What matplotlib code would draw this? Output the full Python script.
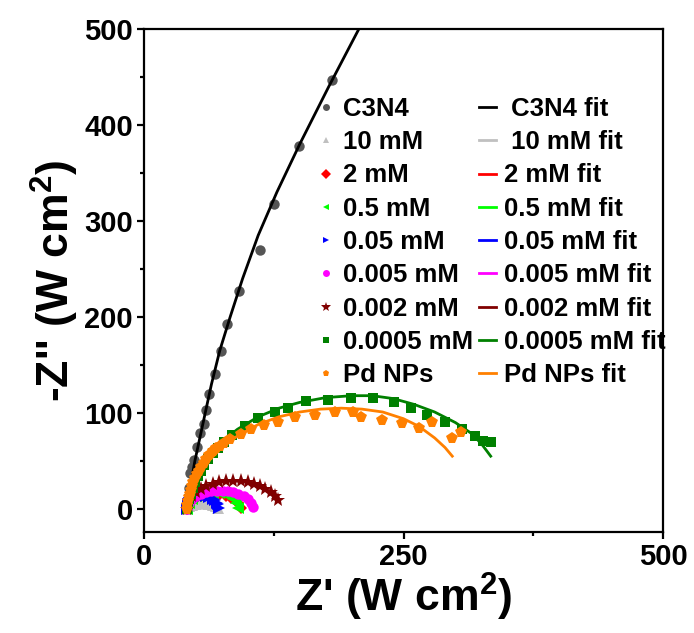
import numpy as np
import matplotlib
matplotlib.use('Agg')
import matplotlib.pyplot as plt
from matplotlib.ticker import MultipleLocator
from matplotlib.lines import Line2D

plt.rcParams['font.family'] = ['Liberation Sans', 'DejaVu Sans']
plt.rcParams['font.weight'] = 'bold'
plt.rcParams['mathtext.fontset'] = 'custom'
plt.rcParams['mathtext.rm'] = 'Liberation Sans:bold'
plt.rcParams['mathtext.bf'] = 'Liberation Sans:bold'

# measured points (Z', -Z'')
c3n4_x = [41, 42, 43, 44.7, 46.5, 48, 51, 54, 57.6, 60, 62.3, 68, 74.6, 80, 91.4, 112, 125, 149, 181.5]
c3n4_y = [0, 10, 22, 37, 44, 51, 65, 79, 89, 103, 120, 141, 165, 193, 227, 270, 318, 378, 447]

mm10_x = [41, 43, 46, 50, 54, 58, 62, 66, 69, 71]
mm10_y = [0, 3.0, 4.5, 5.5, 5.9, 5.9, 5.5, 4.5, 3.0, 0.5]

mm2_x = [41, 43, 46, 50, 55, 61, 67, 73, 79, 84, 88, 91, 93]
mm2_y = [0, 6.0, 9.1, 11.7, 13.8, 15.1, 15.5, 15.1, 13.8, 11.7, 9.1, 6.0, 1.0]

mm05_x = [41, 43, 46, 50, 55, 60, 66, 72, 77, 82, 86, 89, 91]
mm05_y = [0, 6.7, 10.2, 13.1, 15.3, 16.5, 17, 16.5, 15.3, 13.1, 10.2, 6.7, 1.0]

mm005_x = [41, 42, 43, 45, 47, 50, 53, 56.5, 60, 63, 66, 68, 70, 71, 72]
mm005_y = [0, 4.8, 6.6, 9.0, 10.7, 12.3, 13.2, 13.5, 13.2, 12.3, 10.7, 9.0, 6.6, 4.8, 1.0]

mm0005_x = [41, 43, 46, 50, 55, 60, 65, 70, 76, 81, 86, 91, 96, 100, 103, 105]
mm0005_y = [0, 6.6, 10.2, 13.2, 15.7, 17.4, 18.4, 18.9, 18.9, 18.4, 17.4, 15.7, 13.2, 10.2, 6.6, 2.5]

mm0002_x = [41, 43, 46, 50, 55, 60, 66, 72, 79, 86, 93, 100, 106, 112, 117, 122, 126, 129]
mm0002_y = [0, 8.5, 13.3, 17.4, 21.0, 23.7, 26.0, 27.6, 28.7, 29, 28.7, 27.6, 26.0, 23.7, 21.0, 17.4, 13.3, 9.5]

mm00005_x = [41, 42, 43, 45, 47, 49, 52, 55, 58, 62, 66, 71, 77, 85, 97, 109.5, 126, 139, 156, 177,
             199.6, 221, 241, 257, 273, 290, 306, 319, 327, 334]
mm00005_y = [0, 5, 10, 16, 22, 28, 34, 40, 46, 52, 58, 64, 70, 77, 86, 95, 101, 105, 112, 114,
             116, 116, 111, 105, 98, 91, 83, 76, 71, 70]

pd_x = [41, 41.5, 42, 43, 44, 45, 46, 47.5, 49, 51, 53, 55, 57.5, 60, 63, 66, 69.5, 73, 77, 83, 93,
        103, 116, 129, 145, 164.5, 184, 201, 209, 229, 249, 264.5, 277, 296.5, 305]
pd_y = [0, 4, 8, 12, 16, 20, 24, 28, 32, 36, 40, 44, 48, 52, 56, 60, 63, 66, 69, 73, 78,
        83, 87, 91, 96, 98, 101, 101, 96, 93, 90, 84.5, 91, 74, 80]

# fitted curves
c3n4_fit_x = [41, 45, 49, 54, 59, 65, 73, 83, 95, 110, 128, 150, 178, 207, 212]
c3n4_fit_y = [0, 25, 50, 75, 100, 130, 165, 200, 240, 285, 330, 380, 440, 500, 510]
mm10_fit_x = mm10_x
mm10_fit_y = mm10_y
mm2_fit_x = mm2_x
mm2_fit_y = mm2_y
mm05_fit_x = mm05_x
mm05_fit_y = mm05_y
mm005_fit_x = mm005_x
mm005_fit_y = mm005_y
mm0005_fit_x = mm0005_x
mm0005_fit_y = mm0005_y
mm0002_fit_x = mm0002_x
mm0002_fit_y = mm0002_y
mm00005_fit_x = [41, 45, 50, 57, 65, 75, 90, 110, 130, 150, 175, 200, 220, 240, 260, 280, 300, 315, 325, 334]
mm00005_fit_y = [0, 15, 30, 45, 58, 70, 83, 96, 105, 111, 116, 118, 118, 115, 109, 101, 90, 79, 68, 55]
pd_fit_x = [41, 45, 50, 56, 64, 75, 90, 110, 130, 150, 170, 190, 210, 230, 250, 265, 280, 290, 297]
pd_fit_y = [0, 15, 28, 40, 52, 64, 76, 88, 96, 101, 104, 105, 104, 101, 94, 86, 74, 64, 55]

series = [
    ('C3N4', ' C3N4 fit', c3n4_x, c3n4_y, c3n4_fit_x, c3n4_fit_y, '#555555', 'black', 'o', 7.5),
    ('10 mM', ' 10 mM fit', mm10_x, mm10_y, mm10_fit_x, mm10_fit_y, '#c0c0c0', '#c0c0c0', '^', 8),
    ('2 mM', '2 mM fit', mm2_x, mm2_y, mm2_fit_x, mm2_fit_y, 'red', 'red', 'D', 6.5),
    ('0.5 mM', '0.5 mM fit', mm05_x, mm05_y, mm05_fit_x, mm05_fit_y, '#00ff00', '#00ff00', '<', 8),
    ('0.05 mM', '0.05 mM fit', mm005_x, mm005_y, mm005_fit_x, mm005_fit_y, 'blue', 'blue', '>', 8),
    ('0.005 mM', '0.005 mM fit', mm0005_x, mm0005_y, mm0005_fit_x, mm0005_fit_y, 'magenta', 'magenta', 'o', 7.5),
    ('0.002 mM', '0.002 mM fit', mm0002_x, mm0002_y, mm0002_fit_x, mm0002_fit_y, '#800000', '#800000', '*', 11),
    ('0.0005 mM', '0.0005 mM fit', mm00005_x, mm00005_y, mm00005_fit_x, mm00005_fit_y, '#008000', '#008000', 's', 7.5),
    ('Pd NPs', 'Pd NPs fit', pd_x, pd_y, pd_fit_x, pd_fit_y, '#ff8000', '#ff8000', 'p', 8.5),
]

fig = plt.figure(figsize=(6.94, 6.33), dpi=100)
ax = fig.add_axes([144 / 694, 101 / 633, 519 / 694, 503 / 633])

pt_handles, fit_handles = [], []
for name, fit_name, x, y, fx, fy, mc, lc, mk, ms in series:
    ax.plot(x, y, linestyle='none', marker=mk, color=mc, markersize=ms, markeredgewidth=0)
    ax.plot(fx, fy, color=lc, linewidth=2)
    pt_handles.append(Line2D([], [], linestyle='none', marker=mk, color=mc,
                             markersize=7 if mk == '*' else 5, markeredgewidth=0, label=name))
    fit_handles.append(Line2D([], [], color=lc, linewidth=2, label=fit_name))

ax.set_xlim(0, 500)
ax.set_ylim(-24, 500)
ax.xaxis.set_major_locator(MultipleLocator(250))
ax.xaxis.set_minor_locator(MultipleLocator(125))
ax.yaxis.set_major_locator(MultipleLocator(100))
ax.yaxis.set_minor_locator(MultipleLocator(50))
ax.tick_params(which='major', direction='out', length=5, width=1.6, labelsize=21, pad=3)
ax.tick_params(which='minor', direction='out', length=3, width=1.6)
for lab in ax.get_xticklabels() + ax.get_yticklabels():
    lab.set_fontweight('bold')
for sp in ax.spines.values():
    sp.set_linewidth(1.6)

ax.set_xlabel("Z' (W cm$^{2}$)", fontsize=32, fontweight='bold', labelpad=0)
ax.set_ylabel("-Z'' (W cm$^{2}$)", fontsize=32, fontweight='bold', labelpad=2)

fig.legend(handles=pt_handles + fit_handles, ncol=2, loc='upper left',
           bbox_to_anchor=(318 / 694, 1 - 97 / 633), frameon=False,
           borderpad=0, borderaxespad=0, handletextpad=0.33, columnspacing=0.2,
           handlelength=0.66, labelspacing=0.36, prop={'weight': 'bold', 'size': 18.5})

fig.savefig('out.png', dpi=100)
